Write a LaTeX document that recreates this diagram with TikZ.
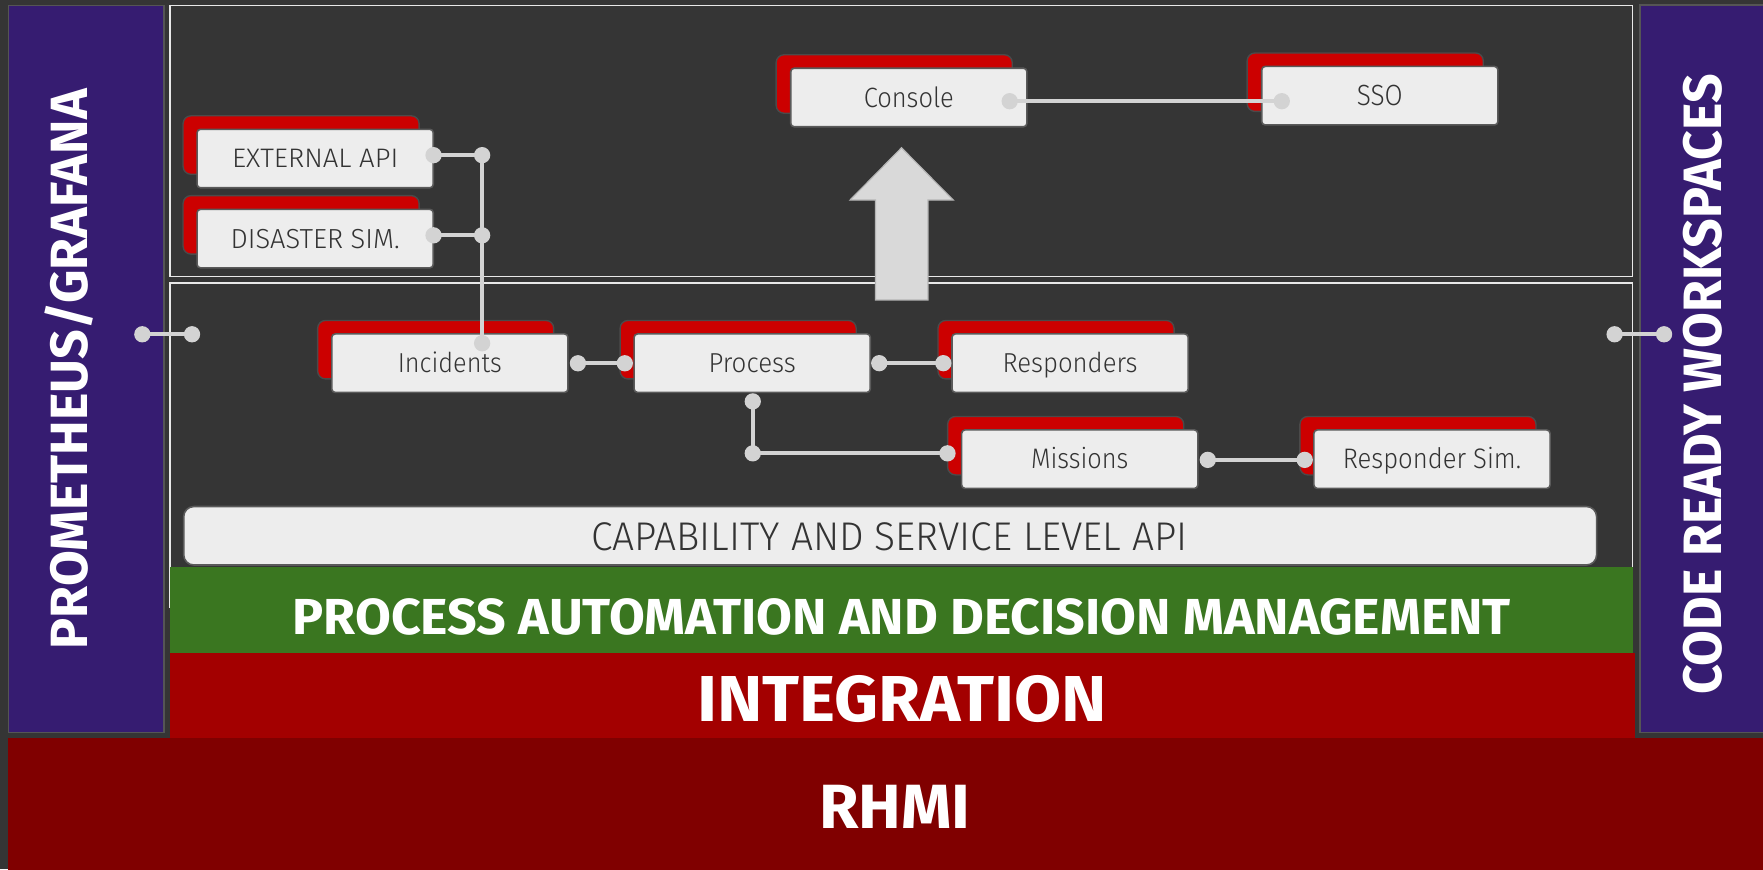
\documentclass[tikz,border=0pt]{standalone}
\usepackage{fontspec}
\usepackage{graphicx}
\setmainfont{Fira Sans}
\newfontfamily\lightfont{Fira Sans Light}
\definecolor{bgc}{HTML}{353535}
\definecolor{purp}{HTML}{361C71}
\definecolor{panelline}{HTML}{555555}
\definecolor{grn}{HTML}{3A7620}
\definecolor{intred}{HTML}{A30000}
\definecolor{rhmired}{HTML}{800000}
\definecolor{shadowred}{HTML}{CC0000}
\definecolor{shadowline}{HTML}{4A4A4A}
\definecolor{boxfill}{HTML}{EDEDED}
\definecolor{boxline}{HTML}{5A5A5A}
\definecolor{wirec}{HTML}{D3D3D3}
\definecolor{labeltext}{HTML}{333333}
\definecolor{framec}{HTML}{E8E8E8}
\definecolor{arrowfill}{HTML}{D9D9D9}
\definecolor{arrowline}{HTML}{B5B5B5}
\newcommand{\capfit}[3]{\resizebox{#1pt}{#2pt}{\raisebox{0pt}[\fontcharht\font`H][0pt]{#3}}}
\begin{document}
\begin{tikzpicture}[x=1pt,y=-1pt,
  compbox/.style={draw=boxline, fill=boxfill, line width=1.4pt, rounded corners=3pt,
    minimum width=210pt, minimum height=52pt, inner sep=0pt, text=labeltext, font=\lightfont},
  shadowbox/.style={draw=shadowline, fill=shadowred, line width=1.2pt, rounded corners=7pt,
    minimum width=210pt, minimum height=52pt, inner sep=0pt},
  wire/.style={draw=wirec, line width=3.5pt},
  wdot/.style={circle, fill=wirec, minimum size=14.5pt, inner sep=0pt},
  bandtext/.style={text=white, font=\bfseries, inner sep=0pt},
  panel/.style={fill=purp, draw=panelline, line width=1.5pt},
  framebox/.style={draw=framec, line width=1.5pt}]
\useasboundingbox (0,0) rectangle (1568,773);
\clip (0,0) rectangle (1568,773);
\fill[bgc] (0,0) rectangle (1568,773);

% side panels
\draw[panel] (7.5,5) rectangle (145.7,651.6);
\draw[panel] (1458.4,4.4) rectangle (1600,651.4);
\node[bandtext, rotate=90] (promtext) at (61.5,328.5) {\capfit{498}{32.3}{PROMETHEUS/GRAFANA}};
\node[bandtext, rotate=90] (crwtext) at (1514.4,342) {\capfit{552}{33.3}{CODE READY WORKSPACES}};

% frames
\draw[framebox] (151,5) rectangle (1452,246);
\draw[framebox] (151,252) rectangle (1452,540);

% capability bar
\node[draw=boxline, fill=boxfill, line width=1.4pt, rounded corners=9pt, minimum width=1256.6pt,
  minimum height=52pt, inner sep=0pt] (capbar) at (791.7,476.5) {};
\node[text=labeltext, font=\lightfont, inner sep=0pt] (captext) at (791,477.6)
  {\capfit{530}{24.4}{CAPABILITY AND SERVICE LEVEL API}};

% bands
\fill[grn] (151,504) rectangle (1452,580.5);
\fill[intred] (151,580.5) rectangle (1454,656);
\fill[rhmired] (7.5,656) rectangle (1600,790);
\node[bandtext] (pamtext) at (802,548.3) {\capfit{1083}{31.2}{PROCESS AUTOMATION AND DECISION MANAGEMENT}};
\node[bandtext] (inttext) at (802.3,621.8) {\capfit{364.6}{40}{INTEGRATION}};
\node[bandtext] (rhmitext) at (795.9,717.5) {\capfit{134.5}{38.5}{RHMI}};

% big arrow
\draw[fill=arrowfill, draw=arrowline, line width=1pt]
  (778.6,266.8) -- (778.6,177.9) -- (756,177.9) -- (801.8,131.4) -- (847.8,177.9)
  -- (825.3,177.9) -- (825.3,266.8) -- cycle;

% components: shadows
\node[shadowbox] (consoleS) at (795.3,74.7) {};
\node[shadowbox] (ssoS) at (1214.2,73.1) {};
\node[shadowbox] (extS) at (267.8,129) {};
\node[shadowbox] (disS) at (267.8,200) {};
\node[shadowbox] (incS) at (387.5,311) {};
\node[shadowbox] (procS) at (656.5,311) {};
\node[shadowbox] (respS) at (939.2,311) {};
\node[shadowbox] (misS) at (947.8,396.4) {};
\node[shadowbox] (rsimS) at (1261.1,396.4) {};

% components: boxes
\node[compbox] (console) at (808.3,86.7) {\capfit{80.1}{17}{Console}};
\node[compbox] (sso) at (1227.2,85.1) {\capfit{40.9}{17.8}{SSO}};
\node[compbox] (ext) at (280.3,141) {\capfit{147.8}{16.3}{EXTERNAL API}};
\node[compbox] (dis) at (280.3,212.2) {\capfit{150.3}{16.8}{DISASTER SIM.}};
\node[compbox] (inc) at (400.1,323) {\capfit{92.5}{16.7}{Incidents}};
\node[compbox] (proc) at (669,323) {\capfit{77.6}{16.7}{Process}};
\node[compbox] (resp) at (951.7,323) {\capfit{120.1}{16.7}{Responders}};
\node[compbox] (mis) at (960.3,408.4) {\capfit{86.5}{17.2}{Missions}};
\node[compbox] (rsim) at (1273.6,408.4) {\capfit{158.6}{17.2}{Responder Sim.}};

% dots
\node[wdot] (cs1) at (898,90) {};
\node[wdot] (cs2) at (1140,90) {};
\node[wdot] (e1) at (385.6,138) {};
\node[wdot] (j1) at (428.8,138) {};
\node[wdot] (ds1) at (385.6,209.3) {};
\node[wdot] (j2) at (428.8,209.3) {};
\node[wdot] (it) at (428.8,305.3) {};
\node[wdot] (pl1) at (126.6,297.3) {};
\node[wdot] (pl2) at (170.8,297.3) {};
\node[wdot] (pr1) at (1436,297.3) {};
\node[wdot] (pr2) at (1480,297.3) {};
\node[wdot] (ir) at (514,323.1) {};
\node[wdot] (pleft) at (555.7,323.1) {};
\node[wdot] (prr) at (782,323) {};
\node[wdot] (rl) at (839,323) {};
\node[wdot] (pb) at (669.5,357) {};
\node[wdot] (pc) at (669.5,403.2) {};
\node[wdot] (ml) at (842.7,403.2) {};
\node[wdot] (mr) at (1074.2,409) {};
\node[wdot] (rsl) at (1160.4,409) {};

% wires
\draw[wire] (cs1.center) -- (cs2.center);
\draw[wire] (e1.center) -- (j1.center);
\draw[wire] (ds1.center) -- (j2.center);
\draw[wire] (j1.center) -- (j2.center) -- (it.center);
\draw[wire] (pl1.center) -- (pl2.center);
\draw[wire] (pr1.center) -- (pr2.center);
\draw[wire] (ir.center) -- (pleft.center);
\draw[wire] (prr.center) -- (rl.center);
\draw[wire] (pb.center) -- (pc.center) -- (ml.center);
\draw[wire] (mr.center) -- (rsl.center);
\end{tikzpicture}
\end{document}
